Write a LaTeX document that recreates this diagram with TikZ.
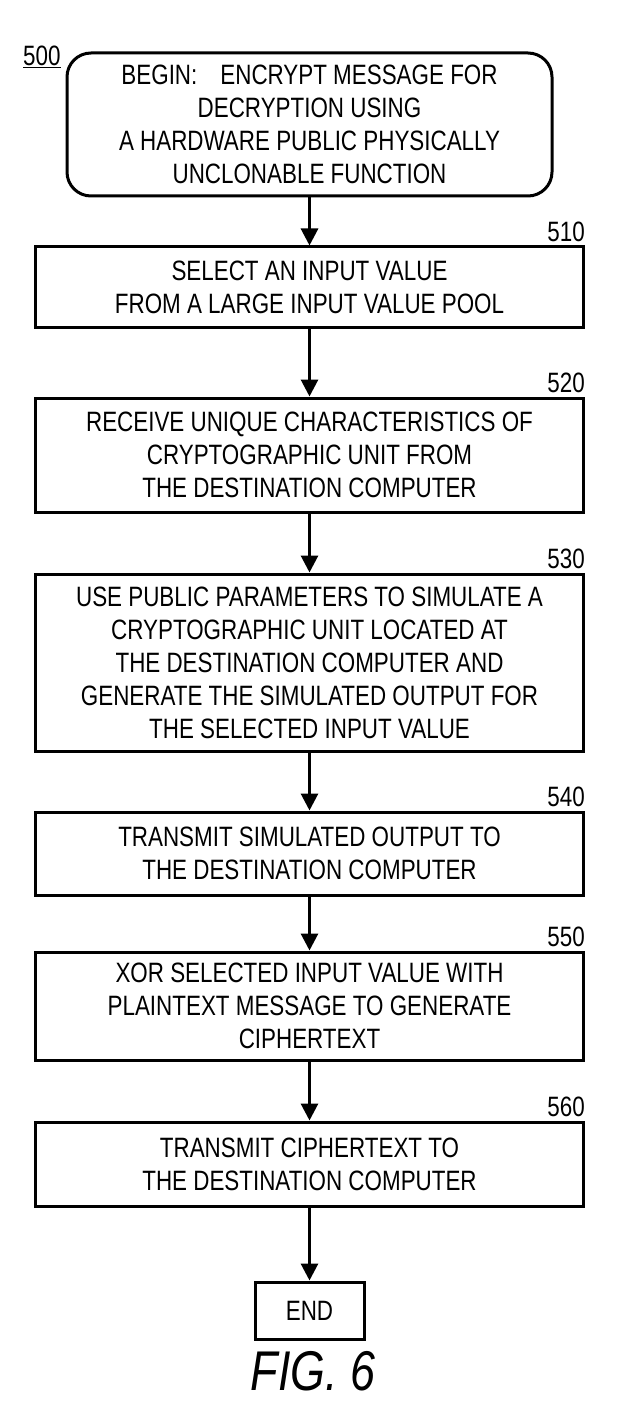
\documentclass[tikz,border=0pt]{standalone}
\usepackage{fontspec}
\setmainfont{Liberation Sans}[FakeStretch=0.8]
\newfontfamily\figfont{Liberation Sans}[FakeStretch=0.8]
\usetikzlibrary{arrows.meta}
\newcommand{\boxfont}{\fontsize{28}{33}\selectfont}
\tikzset{
  stepbox/.style={draw,line width=3pt,minimum width=548pt,inner sep=0pt,
                  align=center,font=\boxfont},
  startbox/.style={stepbox,rounded corners=24pt,minimum width=485pt},
  refnum/.style={anchor=south east,inner sep=0pt,font=\boxfont},
  flow/.style={line width=3pt,-{Triangle[length=17pt,width=17pt]}},
}

\begin{document}
\begin{tikzpicture}[x=1pt,y=-1pt]
  \useasboundingbox (0,0) rectangle (616,1404);
  % steps of the flow
  \node[startbox,minimum height=143pt] (start) at (309.5,124.5)
    {BEGIN:\hspace{0.6em} ENCRYPT MESSAGE FOR\\DECRYPTION USING\\
     A HARDWARE PUBLIC PHYSICALLY\\UNCLONABLE FUNCTION};
  \node[stepbox,minimum height=80pt] (select) at (309.5,287)
    {SELECT AN INPUT VALUE\\FROM A LARGE INPUT VALUE POOL};
  \node[stepbox,minimum height=114pt] (receive) at (309.5,455)
    {RECEIVE UNIQUE CHARACTERISTICS OF\\CRYPTOGRAPHIC UNIT FROM\\
     THE DESTINATION COMPUTER};
  \node[stepbox,minimum height=177pt] (simulate) at (309.5,662.5)
    {USE PUBLIC PARAMETERS TO SIMULATE A\\CRYPTOGRAPHIC UNIT LOCATED AT\\
     THE DESTINATION COMPUTER AND\\GENERATE THE SIMULATED OUTPUT FOR\\
     THE SELECTED INPUT VALUE};
  \node[stepbox,minimum height=83pt] (sendout) at (309.5,853.5)
    {TRANSMIT SIMULATED OUTPUT TO\\THE DESTINATION COMPUTER};
  \node[stepbox,minimum height=108pt] (xorstep) at (309.5,1006)
    {XOR SELECTED INPUT VALUE WITH\\PLAINTEXT MESSAGE TO GENERATE\\
     CIPHERTEXT};
  \node[stepbox,minimum height=84pt] (sendcipher) at (309.5,1164)
    {TRANSMIT CIPHERTEXT TO\\THE DESTINATION COMPUTER};
  \node[stepbox,minimum width=109pt,minimum height=57pt] (stop) at (309.5,1310.5) {END};
  % reference numerals
  \node[anchor=base west,inner sep=0pt,font=\boxfont] (l500) at (23,66) {\underline{500}};
  \foreach \n/\r in {select/510,receive/520,simulate/530,sendout/540,
                     xorstep/550,sendcipher/560}{
    \node[refnum] (l\r) at ([yshift=4pt]\n.north east) {\r};}
  % connectors
  \draw[flow] (start.south) -- (select.north);
  \draw[flow] (select.south) -- (receive.north);
  \draw[flow] (receive.south) -- (simulate.north);
  \draw[flow] (simulate.south) -- (sendout.north);
  \draw[flow] (sendout.south) -- (xorstep.north);
  \draw[flow] (xorstep.south) -- (sendcipher.north);
  \draw[flow] (sendcipher.south) -- (stop.north);
  \node[anchor=base,inner sep=0pt,font=\figfont\itshape\fontsize{56}{60}\selectfont]
    (figlabel) at (313,1390) {FIG. 6};
\end{tikzpicture}
\end{document}
